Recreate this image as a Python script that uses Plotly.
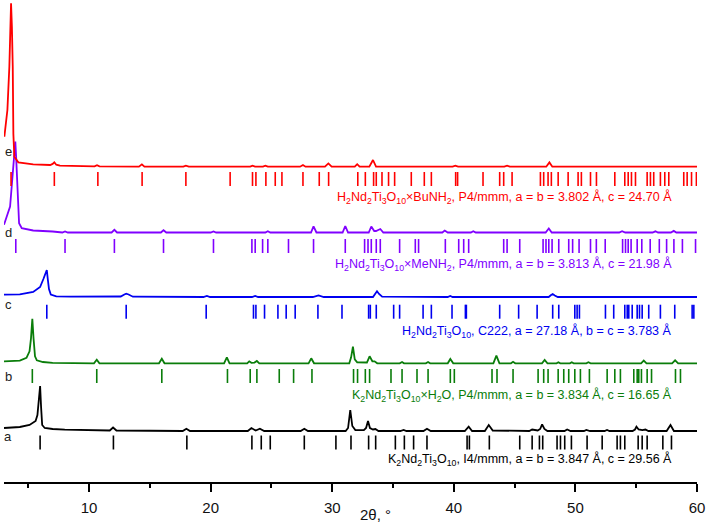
import plotly.graph_objects as go

# ---------------- data (2θ in degrees, intensity in arbitrary units above each pattern's baseline)
a_theta = [3.0, 4.3, 5.1, 5.4, 5.6, 5.75, 5.88, 5.97, 6.05, 6.14, 6.35, 7.0, 8.0, 11.7, 11.97, 12.25,
           17.7, 18.0, 18.3, 23.05, 23.35, 23.7, 24.05, 24.4, 27.4, 27.7, 28.0, 31.1, 31.3, 31.48,
           31.65, 31.9, 32.6, 32.78, 32.94, 33.1, 33.35, 33.55, 33.8, 35.6, 35.87, 36.1, 37.5, 37.79,
           38.1, 40.9, 41.22, 41.5, 42.55, 42.87, 43.2, 46.2, 46.44, 46.9, 47.1, 47.26, 47.45, 47.7,
           49.1, 49.32, 49.6, 50.7, 50.9, 51.2, 52.4, 52.6, 52.8, 54.7, 54.9, 55.02, 55.2, 55.5,
           55.76, 56.0, 57.5, 57.82, 58.1, 60.0]
a_int = [3, 4, 6, 8, 10, 16, 30, 45, 24, 6, 3, 2, 1.3, 0.5, 3.5, 0.5,
         0, 2.3, 0, 0, 3, 0.5, 2.3, 0, 0, 2.3, 0, 0, 3, 21,
         5, 1, 0.8, 3, 10, 3, 1.5, 2, 0, 0, 1, 0, 0, 2.3,
         0, 0, 4.3, 0, 0, 6, 0.5, 0, 1.5, 0.5, 2, 6.7, 2, 0,
         0, 1.5, 0, 0, 1, 0, 0, 1, 0, 0, 1.5, 4.3, 1.5, 0.8,
         1.5, 0, 0, 6, 0, 0]

b_theta = [3.0, 4.3, 4.85, 5.1, 5.22, 5.33, 5.43, 5.55, 5.7, 6.2, 7.0, 10.4, 10.63, 10.85, 15.75,
           15.98, 16.2, 21.1, 21.33, 21.55, 23.0, 23.17, 23.35, 23.6, 23.8, 24.0, 28.05, 28.27, 28.5,
           31.4, 31.55, 31.7, 31.85, 32.05, 32.85, 33.07, 33.3, 33.48, 33.7, 35.55, 35.74, 35.9, 37.7,
           37.88, 38.05, 39.5, 39.71, 39.95, 43.25, 43.5, 43.75, 44.7, 44.87, 45.05, 47.25, 47.47,
           47.7, 48.45, 48.6, 48.75, 49.55, 49.7, 49.85, 50.9, 51.07, 51.25, 55.4, 55.62, 55.85,
           57.95, 58.2, 58.45, 60.0]
b_int = [2, 2.7, 5.5, 12, 25, 44.6, 25, 7, 3, 1.3, 0.5, 0, 3.6, 0, 0,
         4.6, 0, 0, 6, 0, 0, 2, 0.5, 0.7, 2.3, 0, 0, 5, 0,
         0, 6, 16.7, 4, 1, 0.8, 7, 2, 2, 0, 0, 1.3, 0, 0,
         1.3, 0, 0, 4.3, 0, 0, 7.7, 0, 0, 1.5, 0, 0, 3.3,
         0, 0, 1, 0, 0, 1, 0, 0, 1, 0, 0, 2.7, 0,
         0, 3, 0, 0]

c_theta = [3.0, 4.3, 5.4, 5.97, 6.24, 6.4, 6.52, 6.6, 6.7, 6.85, 7.3, 8.5, 12.6, 12.9, 13.05,
           13.25, 13.6, 19.4, 19.69, 19.95, 23.4, 23.66, 23.9, 28.4, 28.87, 29.3, 33.35, 33.55,
           33.68, 33.85, 34.1, 39.5, 39.7, 39.9, 47.8, 48.0, 48.13, 48.3, 48.55, 60.0]
c_int = [2.3, 2.7, 5, 10, 18, 24, 27, 18, 8, 2.5, 0.7, 0.3, 0.5, 2.5, 3.3,
         2.5, 0.3, 0, 1, 0, 0, 1, 0, 0, 1.5, 0, 0, 3.5,
         5.7, 3, 0.3, 0, 1, 0, 0, 2, 3, 1.5, 0, 0]

d_theta = [3.0, 3.5, 3.72, 3.85, 3.93, 4.0, 4.05, 4.13, 4.24, 4.46, 5.4, 7.0, 7.8, 8.02, 8.25,
           11.85, 12.08, 12.3, 15.9, 16.12, 16.35, 20.0, 20.23, 20.45, 24.5, 24.7, 24.9, 28.25,
           28.46, 28.7, 30.85, 31.07, 31.3, 33.0, 33.21, 33.45, 33.6, 33.95, 34.2, 39.05, 39.25,
           39.5, 41.4, 41.6, 41.8, 47.55, 47.81, 48.05, 53.6, 53.84, 54.1, 56.35, 56.58, 56.8,
           57.85, 58.09, 58.3, 60.0]
d_int = [7.7, 26, 59, 85, 91, 75, 59, 26, 9.3, 4.3, 2, 1, 0, 1, 0,
         0, 2.7, 0, 0, 2.3, 0, 0, 1, 0, 0, 1.3, 0, 0,
         6.2, 0, 0, 6.5, 0, 0, 6, 1.5, 1.5, 3.5, 0, 0, 2,
         0, 0, 1.3, 0, 0, 4, 0, 0, 1.3, 0, 0, 1.2, 0,
         0, 1.6, 0, 0]

e_theta = [3.03, 3.28, 3.44, 3.52, 3.58, 3.65, 3.72, 3.77, 3.85, 4.18, 5.4, 6.8, 7.0, 7.14, 7.3,
           7.6, 10.45, 10.65, 10.85, 14.1, 14.34, 14.55, 17.75, 17.96, 18.2, 23.25, 23.44, 23.65,
           24.3, 24.5, 24.7, 27.35, 27.59, 27.8, 29.4, 29.68, 29.95, 31.85, 32.05, 32.25, 33.05,
           33.35, 33.6, 39.9, 40.12, 40.35, 44.15, 44.38, 44.6, 47.6, 47.86, 48.1, 60.0]
e_int = [30, 56.7, 100, 140, 163.4, 140, 100, 33, 10, 4.4, 2.4, 1.7, 2.8, 4.4, 2.0,
         1.0, 0.3, 1.5, 0.3, 0, 2.3, 0, 0, 1, 0, 0, 1, 0,
         0, 1, 0, 0, 1.7, 0, 0, 3.3, 0, 0, 2.5, 0, 0,
         6.7, 0, 0, 1, 0, 0, 1, 0, 0, 4.3, 0, 0]

# Bragg reflection positions (2θ, °)
a_refl = [5.97, 12.0, 18.04, 23.39, 24.16, 24.9, 27.7, 30.3, 31.54, 32.99, 33.57, 35.19, 35.93,
          36.69, 37.79, 41.09, 41.28, 42.92, 45.42, 46.44, 47.04, 47.31, 48.49, 48.77, 49.12,
          49.67, 50.96, 52.2, 53.43, 53.7, 54.06, 55.16, 55.49, 55.9, 57.19, 57.9]
b_refl = [5.33, 10.63, 15.98, 21.38, 23.25, 23.8, 25.64, 26.82, 28.33, 31.75, 32.08, 32.72, 33.07,
          34.83, 35.74, 36.97, 37.88, 39.71, 40.04, 43.14, 43.55, 44.87, 46.93, 47.39, 47.75,
          48.58, 49.04, 49.45, 49.95, 50.41, 51.15, 52.61, 53.24, 53.7, 54.8, 55.08, 55.21,
          55.43, 55.9, 56.26, 58.23, 58.64]
c_refl = [6.52, 13.05, 19.63, 23.52, 23.72, 24.43, 25.53, 26.21, 26.95, 28.82, 30.8, 32.99, 33.13,
          33.62, 35.05, 35.54, 37.47, 38.15, 39.85, 40.95, 41.03, 43.77, 45.33, 46.85, 48.13,
          48.63, 49.95, 50.14, 50.33, 52.47, 53.15, 54.06, 54.26, 54.39, 54.67, 55.08, 55.27,
          55.49, 56.03, 56.99, 58.17, 59.6, 59.74]
d_refl = [3.97, 8.02, 12.08, 16.12, 20.23, 23.39, 23.66, 24.27, 24.7, 26.4, 28.46, 31.07, 32.66,
          32.94, 33.21, 33.62, 33.95, 35.54, 36.83, 37.1, 39.3, 40.4, 40.81, 41.22, 44.1, 44.38,
          45.42, 47.34, 47.58, 47.81, 48.08, 48.63, 49.45, 49.77, 50.3, 51.24, 51.72, 52.45,
          53.88, 54.12, 54.34, 54.58, 55.08, 55.46, 56.15, 56.9, 57.5, 58.1, 58.8, 59.88]
e_refl = [3.58, 7.14, 10.72, 14.36, 17.96, 21.6, 23.44, 23.72, 24.54, 25.31, 25.86, 27.59, 28.93,
          29.7, 32.1, 32.72, 33.4, 33.62, 34.09, 34.63, 35.13, 36.5, 37.57, 38.15, 40.15, 40.31,
          42.4, 43.77, 44.1, 44.79, 47.12, 47.39, 47.75, 48.02, 48.58, 49.4, 50.22, 50.49, 51.24,
          51.73, 53.24, 54.06, 54.34, 54.61, 54.94, 55.9, 56.17, 56.44, 56.99, 57.35, 57.68,
          58.91, 59.19, 59.55, 59.95]

letters = ["a", "b", "c", "d", "e"]
phase_labels = [
    "K<sub>2</sub>Nd<sub>2</sub>Ti<sub>3</sub>O<sub>10</sub>, I4/mmm, a = b = 3.847 Å, c = 29.56 Å",
    "K<sub>2</sub>Nd<sub>2</sub>Ti<sub>3</sub>O<sub>10</sub>×H<sub>2</sub>O, P4/mmm, a = b = 3.834 Å, c = 16.65 Å",
    "H<sub>2</sub>Nd<sub>2</sub>Ti<sub>3</sub>O<sub>10</sub>, C222, a = 27.18 Å, b = c = 3.783 Å",
    "H<sub>2</sub>Nd<sub>2</sub>Ti<sub>3</sub>O<sub>10</sub>×MeNH<sub>2</sub>, P4/mmm, a = b = 3.813 Å, c = 21.98 Å",
    "H<sub>2</sub>Nd<sub>2</sub>Ti<sub>3</sub>O<sub>10</sub>×BuNH<sub>2</sub>, P4/mmm, a = b = 3.802 Å, c = 24.70 Å",
]
x_ticks = [10, 20, 30, 40, 50, 60]
x_minor = [5, 15, 25, 35, 45, 55]

# ---------------- styling / layout (vertical positions in 0..482 plot units = pixels)
colors = ["#000000", "#0a7d0a", "#0000f0", "#8000ff", "#ff0000"]
curve_offsets = [51.0, 118.7, 185.0, 249.5, 315.3]
tick_rows = [39.5, 106.0, 170.3, 236.0, 303.0]
label_rows = [22.7, 87.0, 150.3, 218.0, 284.5]
letter_rows = [45.3, 106.0, 178.0, 249.8, 330.3]

patterns = [(a_theta, a_int, a_refl), (b_theta, b_int, b_refl), (c_theta, c_int, c_refl),
            (d_theta, d_int, d_refl), (e_theta, e_int, e_refl)]

FONT = "Arial, Liberation Sans, sans-serif"
PLOT_W = 709 - 4 - 12

fig = go.Figure()
for i, (tx, iy, refl) in enumerate(patterns):
    fig.add_trace(go.Scatter(
        x=tx, y=[v + curve_offsets[i] for v in iy], mode="lines",
        line=dict(color=colors[i], width=1.8), hoverinfo="skip", showlegend=False))
    fig.add_trace(go.Scatter(
        x=refl, y=[tick_rows[i]] * len(refl), mode="markers",
        marker=dict(symbol="line-ns", size=10, color=colors[i],
                    line=dict(color=colors[i], width=1.6)),
        hoverinfo="skip", showlegend=False))

annotations = []
for i in range(5):
    annotations.append(dict(
        x=0.967, xref="paper", y=label_rows[i], yref="y", xanchor="right", yanchor="middle",
        text=phase_labels[i], showarrow=False, font=dict(family=FONT, size=12.5, color=colors[i])))
    annotations.append(dict(
        x=(8.3 - 4) / PLOT_W, xref="paper", y=letter_rows[i], yref="y", xanchor="center",
        yanchor="middle", text=letters[i], showarrow=False,
        font=dict(family=FONT, size=13, color="#222222")))
annotations.append(dict(
    x=(375 - 4) / PLOT_W, xref="paper", y=-32 / 482.0, yref="paper", xanchor="center",
    yanchor="middle", text="2θ, °", showarrow=False, font=dict(family=FONT, size=15, color="#111111")))

fig.update_layout(
    width=709, height=523,
    margin=dict(l=4, r=12, t=0, b=41, autoexpand=False),
    paper_bgcolor="white", plot_bgcolor="white",
    annotations=annotations,
    xaxis=dict(range=[3, 60], tickvals=x_ticks, ticktext=[str(v) for v in x_ticks],
               ticks="outside", ticklen=8, tickwidth=1.5, tickcolor="black", automargin=False,
               ticklabelstandoff=3,
               showline=True, linecolor="black", linewidth=1.5, showgrid=False, zeroline=False,
               tickfont=dict(family=FONT, size=15, color="#111111"),
               minor=dict(tickvals=x_minor, ticks="outside", ticklen=4,
                          tickwidth=1.5, tickcolor="black", showgrid=False)),
    yaxis=dict(range=[0, 482], visible=False, showgrid=False, zeroline=False, automargin=False),
)

fig.write_html("out.html", config={"displayModeBar": False},
               post_script="document.body.style.margin='0';document.body.style.padding='0';")
